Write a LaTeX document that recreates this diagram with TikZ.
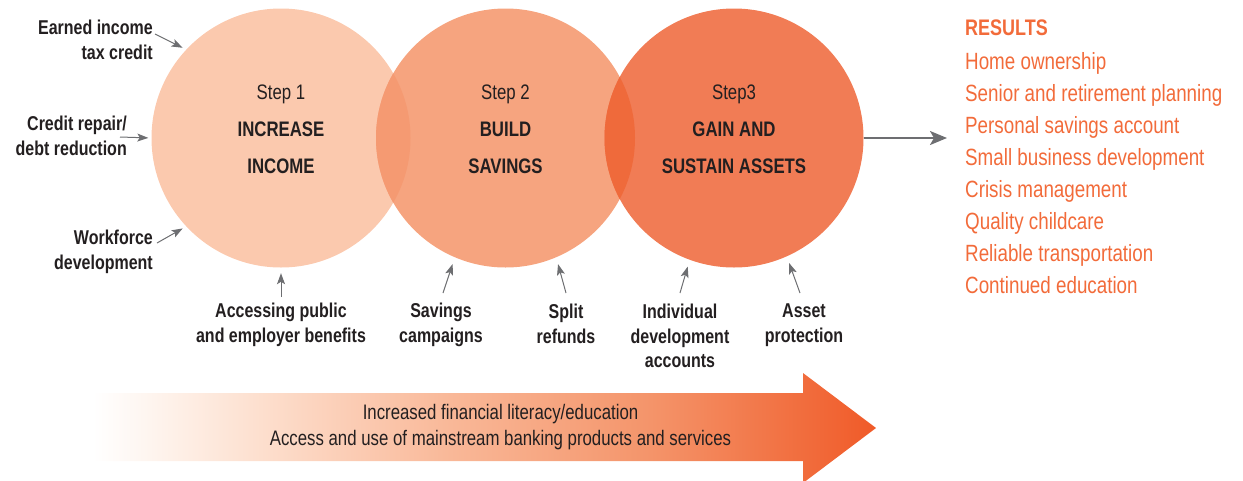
\documentclass[tikz,border=0pt]{standalone}
\usepackage{fontspec}
\setmainfont{Liberation Sans}[FakeStretch=0.8]
\usetikzlibrary{arrows.meta}

\definecolor{ink}{HTML}{231F20}
\definecolor{pointer}{HTML}{6D6E71}
\definecolor{stepA}{HTML}{FBC9AE}
\definecolor{stepB}{HTML}{F6A47F}
\definecolor{stepC}{HTML}{F17C55}
\definecolor{lensAB}{HTML}{F59A72}
\definecolor{lensBC}{HTML}{EF6A3B}
\definecolor{result}{HTML}{F26B3A}
\definecolor{fadeA}{HTML}{FEF5EF}
\definecolor{fadeB}{HTML}{FDDFCE}
\definecolor{fadeC}{HTML}{F9B898}
\definecolor{fadeD}{HTML}{F4946A}
\definecolor{fadeE}{HTML}{F05A28}

% white on the left, deep orange at the arrow tip
\pgfdeclarehorizontalshading{literacy}{100bp}{%
  color(0bp)=(white); color(25bp)=(white); color(28.6bp)=(fadeA);
  color(35.7bp)=(fadeB); color(47.8bp)=(fadeC); color(60.6bp)=(fadeD);
  color(75bp)=(fadeE); color(100bp)=(fadeE)}

\begin{document}
\begin{tikzpicture}[x=1pt,y=-1pt,
  stepcircle/.style={circle,minimum size=259pt,inner sep=0pt,draw=none},
  steptext/.style={align=center,text=ink,font=\fontsize{21}{37}\selectfont},
  sidelabel/.style={align=right,text=ink,font=\bfseries\fontsize{20}{25}\selectfont,inner sep=0pt},
  baselabel/.style={align=center,text=ink,font=\bfseries\fontsize{20}{24.5}\selectfont,inner sep=0pt},
  pointarrow/.style={draw=pointer,line width=1pt,-{Stealth[length=11pt,width=8pt,inset=2.5pt]}},
  outarrow/.style={draw=pointer,line width=2.2pt,-{Stealth[length=17pt,width=14pt,inset=4pt]}},
  resulthead/.style={text=result,font=\bfseries\fontsize{22.5}{32}\selectfont,inner sep=0pt},
  resultlist/.style={align=left,text=result,font=\fontsize{23.5}{32}\selectfont,inner sep=0pt},
  bandtext/.style={align=center,text=ink,font=\fontsize{21}{26}\selectfont,inner sep=0pt}]

\useasboundingbox (0,0) rectangle (1243,480);

% the three step circles and their overlaps
\node[stepcircle,fill=stepA] (c1) at (281,138) {};
\node[stepcircle,fill=stepB] (c2) at (505.5,138) {};
\node[stepcircle,fill=stepC] (c3) at (734,138) {};
\begin{scope}
  \clip (281,138) circle (129.5);
  \fill[lensAB] (505.5,138) circle (129.5);
\end{scope}
\begin{scope}
  \clip (505.5,138) circle (129.5);
  \fill[lensBC] (734,138) circle (129.5);
\end{scope}

\node[steptext] (s1) at (281,129) {Step 1\\\textbf{INCREASE}\\\textbf{INCOME}};
\node[steptext] (s2) at (505.5,129) {Step 2\\\textbf{BUILD}\\\textbf{SAVINGS}};
\node[steptext] (s3) at (734,129) {Step3\\\textbf{GAIN AND}\\\textbf{SUSTAIN ASSETS}};

% inputs on the left
\node[sidelabel,anchor=east] (eitc) at (153,40) {Earned income\\tax credit};
\node[sidelabel,anchor=east] (repair) at (127,136) {Credit repair/\\debt reduction};
\node[sidelabel,anchor=east] (work) at (153,252) {Workforce\\development};

% inputs below
\node[baselabel] (benefits) at (281,325) {Accessing public\\and employer benefits};
\node[baselabel] (campaigns) at (441,325) {Savings\\campaigns};
\node[baselabel] (refunds) at (566,324) {Split\\refunds};
\node[baselabel] (ida) at (680,336) {Individual\\development\\accounts};
\node[baselabel] (protect) at (804,325) {Asset\\protection};

\coordinate (eitcT) at (155,34);
\coordinate (repairT) at (120,137);
\coordinate (workT) at (157,243);
\coordinate (benefitsT) at (281,297);
\coordinate (campaignsT) at (443,293);
\coordinate (refundsT) at (566,293);
\coordinate (idaT) at (680,293);
\coordinate (protectT) at (800,293);

\draw[pointarrow,shorten >=4pt] (eitcT) -- (c1.137);
\draw[pointarrow,shorten >=3pt] (repairT) -- (c1.180);
\draw[pointarrow,shorten >=4pt] (workT) -- (c1.223);
\draw[pointarrow,shorten >=5.5pt] (benefitsT) -- (c1.270);
\draw[pointarrow,shorten >=7pt] (campaignsT) -- (c2.247);
\draw[pointarrow,shorten >=7pt] (refundsT) -- (c2.293);
\draw[pointarrow,shorten >=7pt] (idaT) -- (c3.250);
\draw[pointarrow,shorten >=7pt] (protectT) -- (c3.294);

% outcome list
\coordinate (resT) at (947,138);
\draw[outarrow] (c3.east) -- (resT);
\node[resulthead,anchor=west] (reshead) at (965,28) {RESULTS};
\node[resultlist,anchor=west] (results) at (965,173)
  {Home ownership\\Senior and retirement planning\\Personal savings account\\
   Small business development\\Crisis management\\Quality childcare\\
   Reliable transportation\\Continued education};

% shaded band along the bottom
\path[shading=literacy] (93,393) -- (803,393) -- (803,373) -- (876,428)
  -- (803,483) -- (803,461) -- (93,461) -- cycle;
\node[bandtext] (band) at (500.5,427)
  {Increased financial literacy/education\\Access and use of mainstream banking products and services};

\end{tikzpicture}
\end{document}
